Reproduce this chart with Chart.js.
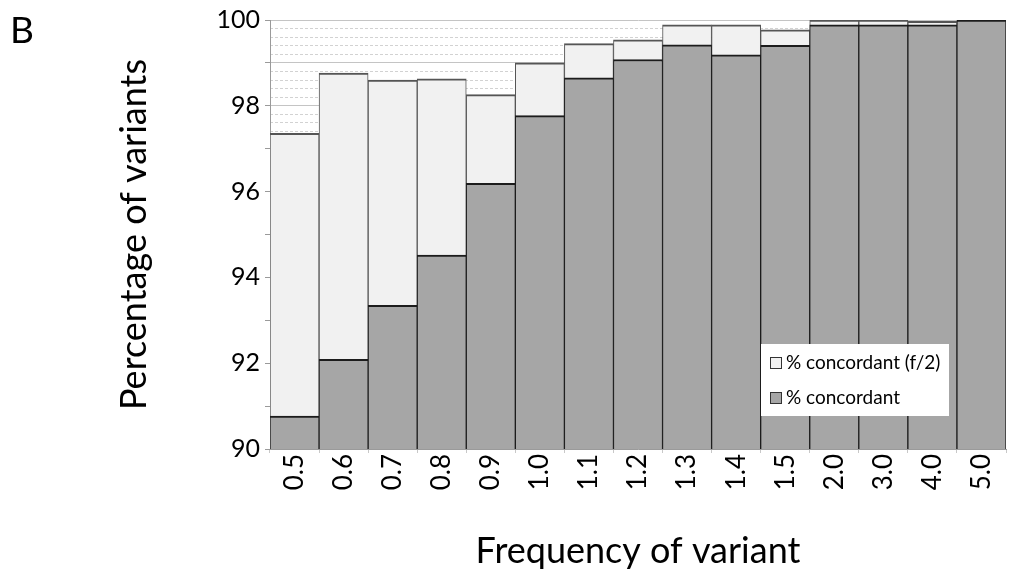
<!DOCTYPE html>
<html>
<head>
<meta charset="utf-8">
<script src="https://cdn.jsdelivr.net/npm/chart.js@4"></script>
<style>
html, body { margin: 0; padding: 0; background: #fff; }
</style>
</head>
<body>
<canvas id="myChart" width="1009" height="577"></canvas>
<script>
// variant frequency bins (x axis)
const frequencies = ['0.5', '0.6', '0.7', '0.8', '0.9', '1.0', '1.1', '1.2', '1.3', '1.4', '1.5', '2.0', '3.0', '4.0', '5.0'];
// % concordant when allowing f/2
const concordantHalf = [97.36, 98.76, 98.60, 98.63, 98.26, 99.00, 99.45, 99.54, 99.89, 99.89, 99.77, 100, 100, 99.97, 100];
// % concordant
const concordant = [90.77, 92.09, 93.35, 94.52, 96.19, 97.77, 98.65, 99.08, 99.42, 99.19, 99.41, 99.89, 99.89, 99.89, 100];
const yTickLabels = [90, 92, 94, 96, 98, 100];

const FONT = 'Lato';

// legend drawn as a white box inside the plot, bottom right
const legendBox = {
    id: 'legendBox',
    afterDatasetsDraw(chart) {
        const { ctx, chartArea } = chart;
        const w = 188, h = 72;
        const x = chartArea.right - 57 - w;
        const y = chartArea.bottom - 33 - h;
        ctx.save();
        ctx.fillStyle = '#fff';
        ctx.fillRect(x, y, w, h);
        ctx.font = '19px ' + FONT;
        ctx.textBaseline = 'middle';
        chart.data.datasets.forEach((ds, i) => {
            const cy = y + 19 + i * 35;
            ctx.fillStyle = ds.backgroundColor;
            ctx.fillRect(x + 9, cy - 6, 12, 12);
            ctx.strokeStyle = '#333';
            ctx.lineWidth = 1;
            ctx.strokeRect(x + 9.5, cy - 5.5, 11, 11);
            ctx.fillStyle = '#000';
            ctx.fillText(ds.label, x + 25, cy);
        });
        ctx.restore();
    }
};

// panel letter
const panelLetter = {
    id: 'panelLetter',
    afterDraw(chart) {
        const ctx = chart.ctx;
        ctx.save();
        ctx.font = '37px ' + FONT;
        ctx.fillStyle = '#000';
        ctx.textBaseline = 'alphabetic';
        ctx.fillText('B', 10, 43);
        ctx.restore();
    }
};

const isWhole = v => Math.abs(v - Math.round(v)) < 1e-6;

const ctx = document.getElementById('myChart').getContext('2d');
const myChart = new Chart(ctx, {
    type: 'bar',
    data: {
        labels: frequencies,
        datasets: [{
            label: '% concordant (f/2)',
            data: concordantHalf,
            backgroundColor: '#f1f1f1',
            borderColor: '#555',
            borderWidth: { top: 2, left: 1, right: 1, bottom: 0 },
            order: 1
        }, {
            label: '% concordant',
            data: concordant,
            backgroundColor: '#a6a6a6',
            borderColor: '#1c1c1c',
            borderWidth: { top: 2, left: 1, right: 1, bottom: 0 },
            order: 0
        }]
    },
    options: {
        responsive: false,
        animation: false,
        layout: { padding: { top: 20, right: 3, left: 0, bottom: 0 } },
        datasets: {
            bar: { grouped: false, categoryPercentage: 1, barPercentage: 1 }
        },
        plugins: {
            legend: { display: false },
            tooltip: { enabled: false }
        },
        scales: {
            x: {
                afterFit(scale) {
                    scale.height = 128;
                    scale.paddingLeft = 0;
                    scale.paddingRight = 0;
                },
                ticks: {
                    minRotation: 90,
                    maxRotation: 90,
                    autoSkip: false,
                    padding: 1,
                    color: '#000',
                    font: { family: FONT, size: 26 }
                },
                grid: { drawOnChartArea: false, tickLength: 4, tickColor: '#c8c8c8', offset: true },
                border: { color: '#9a9a9a', width: 1 },
                title: {
                    display: true,
                    text: 'Frequency of variant',
                    color: '#000',
                    font: { family: FONT, size: 36 },
                    padding: { top: 0, bottom: 4 }
                }
            },
            y: {
                min: 90,
                max: 100,
                afterFit(scale) {
                    scale.width = 270;
                    scale.paddingTop = 0;
                    scale.paddingBottom = 0;
                },
                ticks: {
                    stepSize: 1,
                    autoSkip: false,
                    padding: 5,
                    color: '#000',
                    font: { family: FONT, size: 25 },
                    callback: v => yTickLabels.includes(v) ? String(v) : ''
                },
                grid: { color: '#c4c4c4', lineWidth: 1, tickLength: 5, tickColor: '#9a9a9a' },
                border: { color: '#9a9a9a', width: 1 },
                title: {
                    display: true,
                    text: 'Percentage of variants',
                    color: '#000',
                    font: { family: FONT, size: 36 },
                    padding: { top: 113, bottom: 0 }
                }
            },
            yMinor: {
                position: 'left',
                min: 90,
                max: 100,
                afterFit(scale) {
                    scale.width = 0;
                    scale.paddingTop = 0;
                    scale.paddingBottom = 0;
                },
                ticks: { display: false, stepSize: 0.2, autoSkip: false },
                grid: {
                    drawTicks: false,
                    color: c => (c.tick && !isWhole(c.tick.value)) ? '#d2d2d2' : 'rgba(0,0,0,0)'
                },
                border: { display: false, dash: [3, 2] }
            }
        }
    },
    plugins: [legendBox, panelLetter]
});
</script>
</body>
</html>
